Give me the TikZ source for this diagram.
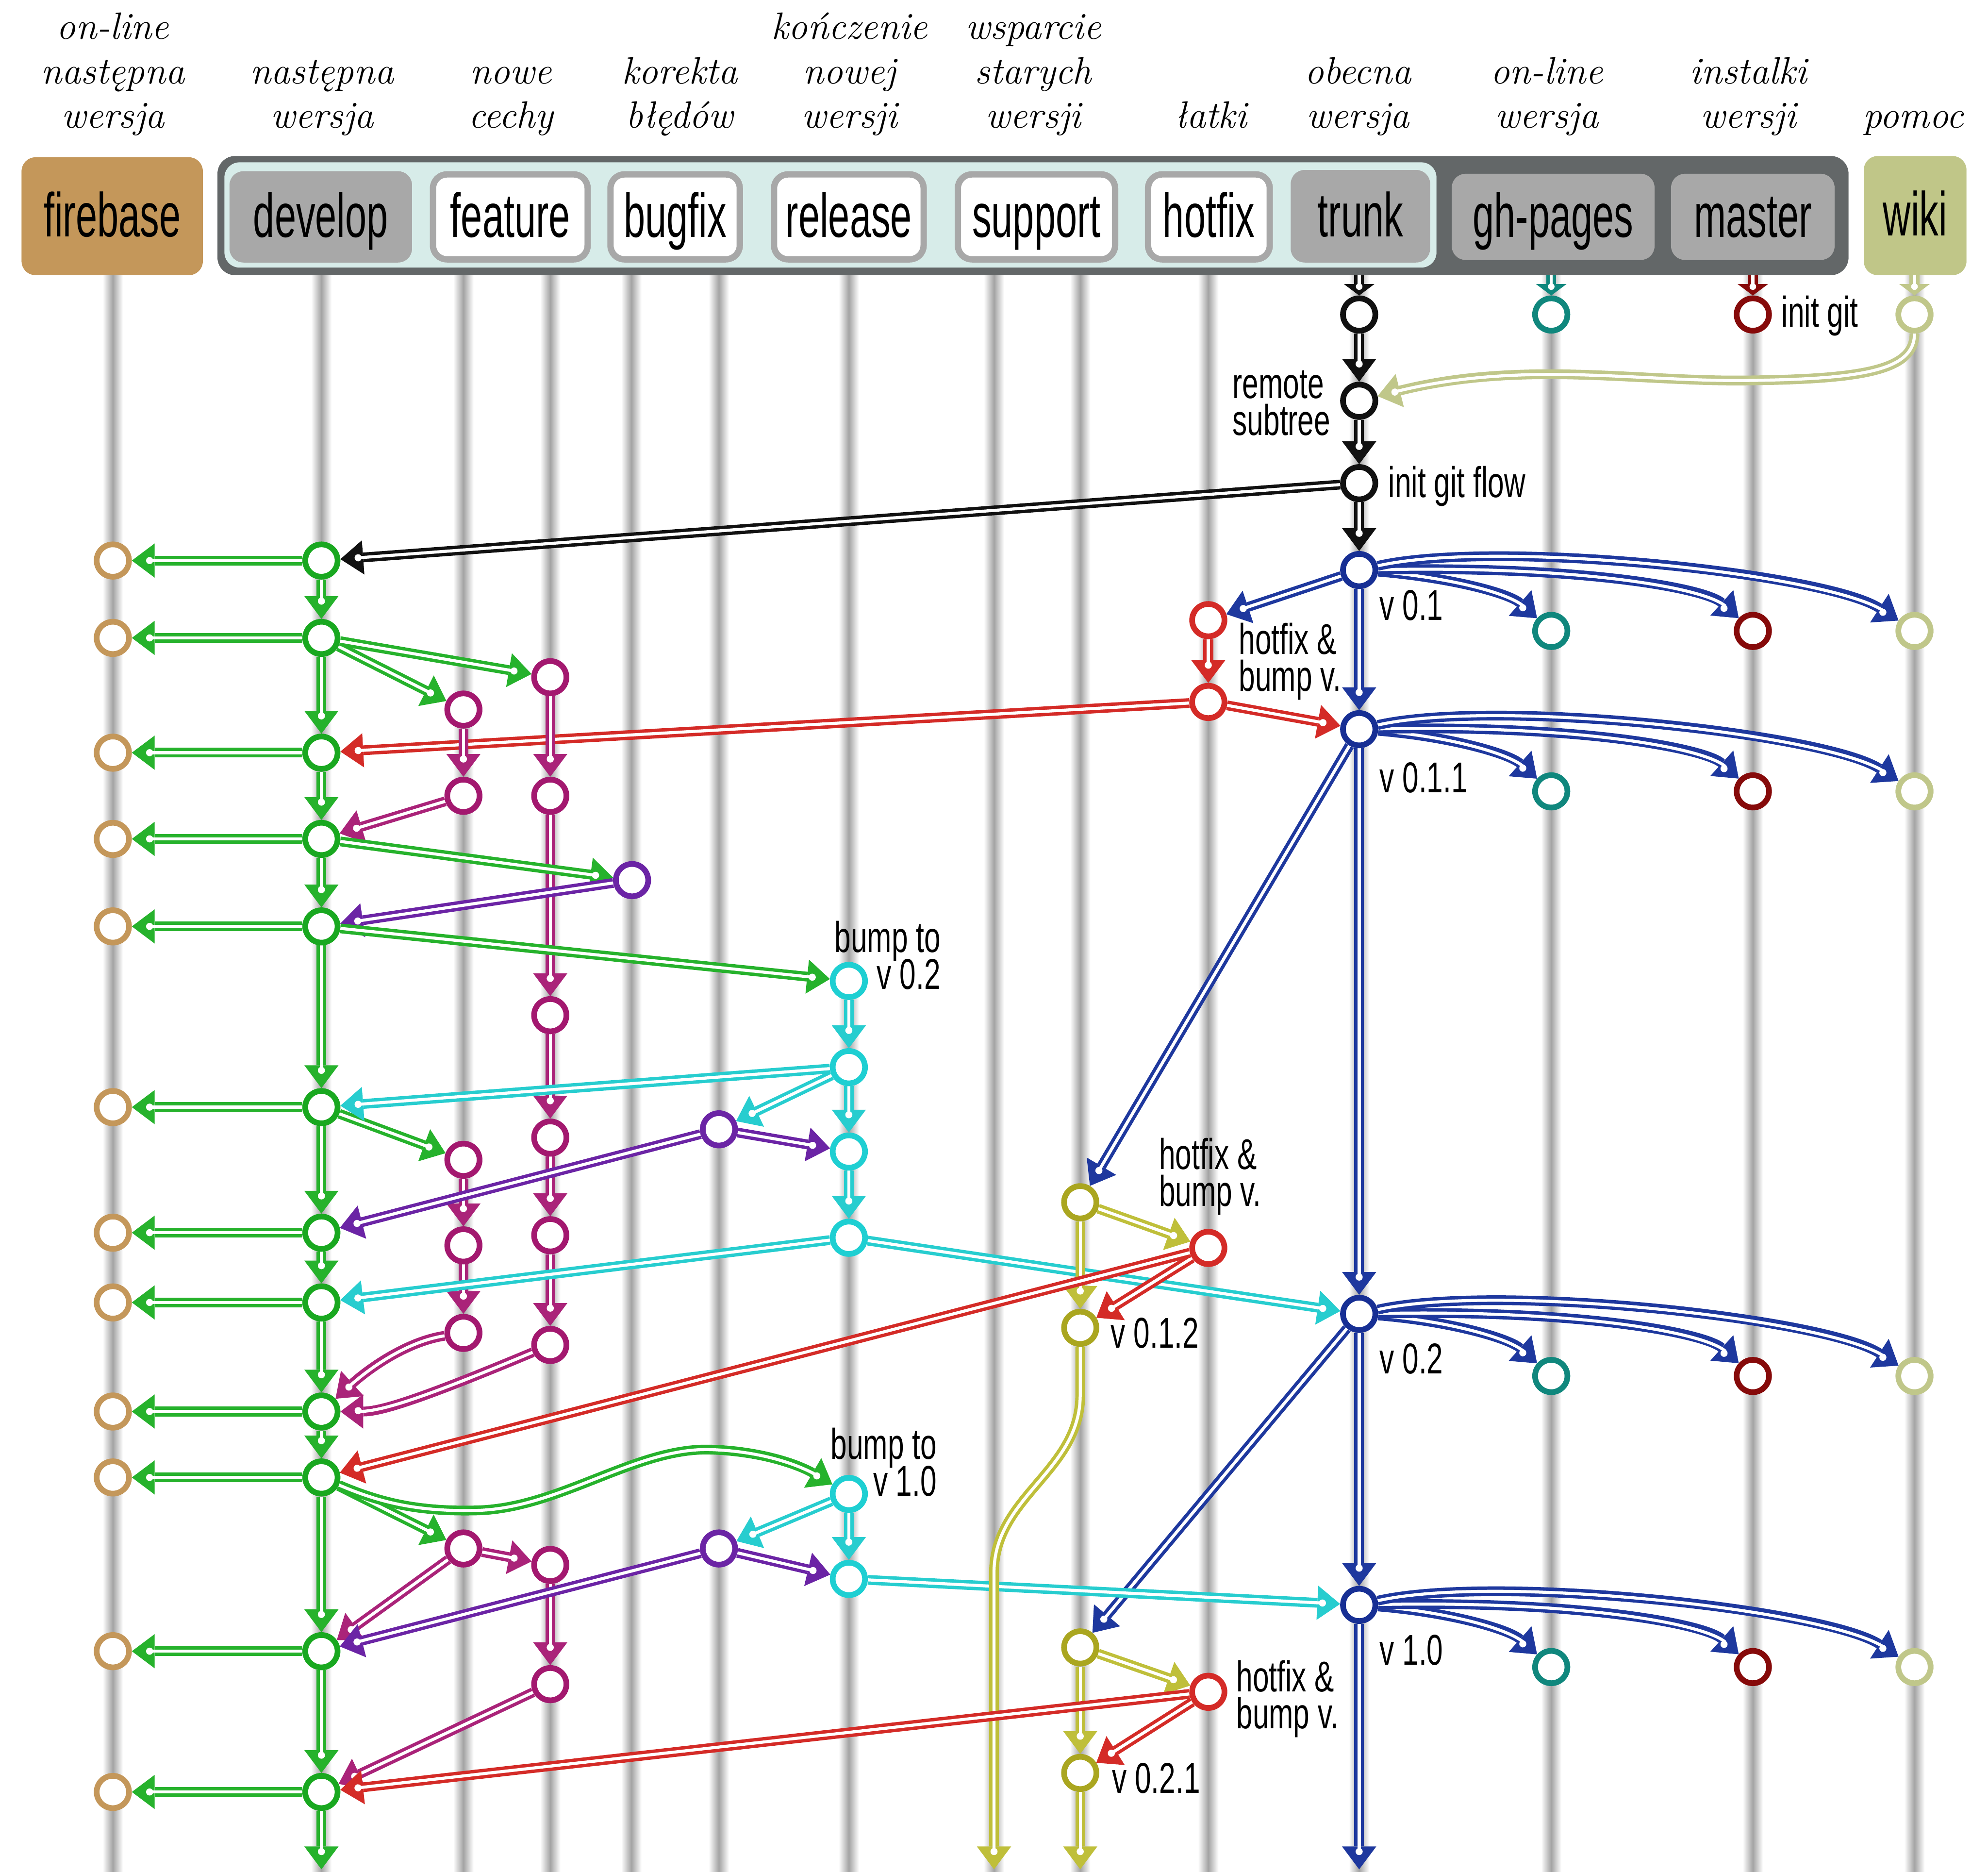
\documentclass[tikz,border=0pt]{standalone}
\usepackage{fontspec}
\newfontfamily\boxfont{Liberation Sans}[FakeStretch=0.62]
\newfontfamily\lblfont{Liberation Sans}[FakeStretch=0.68]
\usetikzlibrary{arrows.meta,decorations.markings}
\pgfdeclarelayer{lanes}
\pgfdeclarelayer{edges}
\pgfsetlayers{lanes,edges,main}
\definecolor{ctan}{HTML}{C4975A}
\definecolor{cdark}{HTML}{636768}
\definecolor{clight}{HTML}{D7ECE9}
\definecolor{cgray}{HTML}{A8A8A8}
\definecolor{cwikibox}{HTML}{C0C688}
\definecolor{cgreen}{HTML}{26B22C}
\definecolor{cgreenN}{HTML}{19A820}
\definecolor{cmag}{HTML}{AA2379}
\definecolor{cmagN}{HTML}{A3186F}
\definecolor{cpur}{HTML}{6B24A5}
\definecolor{ccyan}{HTML}{27CDCF}
\definecolor{ccyanN}{HTML}{1ECFD2}
\definecolor{coliv}{HTML}{BFBF3A}
\definecolor{colivN}{HTML}{AAA620}
\definecolor{chot}{HTML}{D42B27}
\definecolor{ctrunk}{HTML}{1E389E}
\definecolor{ctrunkN}{HTML}{172F94}
\definecolor{cteal}{HTML}{10877D}
\definecolor{cmaster}{HTML}{860A0A}
\definecolor{cwiki}{HTML}{C0C78A}
\definecolor{cblack}{HTML}{111111}
\newcommand\stackc[1]{\vtop{\lineskiplimit=-1000pt\halign{\hfil##\hfil\cr#1\crcr}}}
\newcommand\stackl[1]{\vtop{\lineskiplimit=-1000pt\halign{##\hfil\cr#1\crcr}}}
\newcommand\stackr[1]{\vtop{\lineskiplimit=-1000pt\halign{\hfil##\cr#1\crcr}}}
\tikzset{
  link/.style={draw=#1, line width=7.7pt,
    -{Triangle[length=18pt,width=27pt,line width=0pt]},
    postaction={draw=white, line width=2.4pt, -, shorten >=14pt},
    postaction={draw=none, -, decorate, decoration={markings,
      mark=at position -14pt with {\fill[white] (0,0) circle (2.8pt);}}}},
  stub/.style={draw=#1, line width=7.7pt,
    -{Triangle[length=9pt,width=24pt,line width=0pt]},
    postaction={draw=white, line width=2.4pt, -, shorten >=7pt},
    postaction={draw=none, -, decorate, decoration={markings,
      mark=at position -7pt with {\fill[white] (0,0) circle (2.6pt);}}}},
  commit/.style={circle, draw=#1, fill=white, line width=4.5pt,
    minimum size=25.5pt, inner sep=0pt},
  box/.style={rounded corners=11pt, inner sep=0pt,
    font=\boxfont\fontsize{49}{55}\selectfont, text height=36pt, text depth=4pt},
  hdr/.style={font=\fontsize{30}{35}\selectfont\itshape, anchor=base, inner sep=0pt},
  lbl/.style={font=\lblfont\fontsize{34}{29}\selectfont, inner sep=0pt},
}
\begin{document}
\begin{tikzpicture}[x=1pt,y=-1pt]
\useasboundingbox (0,0) rectangle (1568,1476);
\begin{pgfonlayer}{lanes}
\fill[white] (0,0) rectangle (1568,1476);
\foreach \x in {89,253.5,365.5,434,498,567,669.5,784,852,953,1072,1223.5,1382.5,1510}
  \shade[left color=white,right color=white,middle color=black!36] (\x-8,205) rectangle (\x+8,1476);
\end{pgfonlayer}

% ---------- header ----------
\node[hdr] (h1) at (89,31) {\stackc{on-line\cr następna\cr wersja}};
\node[hdr] (h2) at (254,66) {\stackc{następna\cr wersja}};
\node[hdr] (h3) at (403,66) {\stackc{nowe\cr cechy}};
\node[hdr] (h4) at (536,66) {\stackc{korekta\cr błędów}};
\node[hdr] (h5) at (670,31) {\stackc{kończenie\cr nowej\cr wersji}};
\node[hdr] (h6) at (815,31) {\stackc{wsparcie\cr starych\cr wersji}};
\node[hdr] (h7) at (955,101) {łatki};
\node[hdr] (h8) at (1071,66) {\stackc{obecna\cr wersja}};
\node[hdr] (h9) at (1220,66) {\stackc{on-line\cr wersja}};
\node[hdr] (h10) at (1379,66) {\stackc{instalki\cr wersji}};
\node[hdr] (h11) at (1509,101) {pomoc};

\node[box, fill=ctan, minimum width=143pt, minimum height=93pt] (firebase) at (88.5,170.5) {firebase};
\node[rounded corners=14pt, fill=cdark, minimum width=1286.5pt, minimum height=94pt, inner sep=0pt] (bigbox) at (814.75,170) {};
\node[rounded corners=12pt, fill=clight, minimum width=956pt, minimum height=83pt, inner sep=0pt] (lightbox) at (655,169.5) {};
\node[box, fill=cgray, minimum width=144pt, minimum height=72pt] (develop) at (253,171) {develop};
\node[box, fill=white, draw=cgray, line width=5pt, minimum width=122pt, minimum height=67pt] (feature) at (402.5,171) {feature};
\node[box, fill=white, draw=cgray, line width=5pt, minimum width=102pt, minimum height=67pt] (bugfix) at (532.5,171) {bugfix};
\node[box, fill=white, draw=cgray, line width=5pt, minimum width=118pt, minimum height=67pt] (release) at (669.5,171) {release};
\node[box, fill=white, draw=cgray, line width=5pt, minimum width=124pt, minimum height=67pt] (support) at (817.5,171) {support};
\node[box, fill=white, draw=cgray, line width=5pt, minimum width=96pt, minimum height=67pt] (hotfix) at (953.5,171) {hotfix};
\node[box, fill=cgray, minimum width=110pt, minimum height=73pt] (trunk) at (1073,170.5) {trunk};
\node[box, fill=cgray, minimum width=160pt, minimum height=68pt] (ghpages) at (1225,171) {gh-pages};
\node[box, fill=cgray, minimum width=129pt, minimum height=68pt] (master) at (1382.5,171) {master};
\node[box, fill=cwikibox, minimum width=81pt, minimum height=94pt] (wiki) at (1510.5,170) {wiki};

\coordinate (tkTop) at (1072,217);
\coordinate (ghTop) at (1223.5,217);
\coordinate (msTop) at (1382.5,217);
\coordinate (wkTop) at (1510,217);
\coordinate (dEnd) at (253.5,1474);
\coordinate (sEnd1) at (784,1474);
\coordinate (sEnd2) at (852,1474);
\coordinate (tEnd) at (1072,1474);

% ---------- commits ----------
\foreach \y [count=\i from 0] in {442,503,593.5,661.5,730.5,873,972,1027,1113,1165,1302,1413} {
  \node[commit=cgreenN] (D\i) at (253.5,\y) {};
  \node[commit=ctan] (F\i) at (89,\y) {};
}
\node[commit=cblack] (T0) at (1072,248) {};
\node[commit=cblack] (T1) at (1072,316) {};
\node[commit=cblack] (T2) at (1072,381) {};
\node[commit=ctrunkN] (T3) at (1072,449.5) {};
\node[commit=ctrunkN] (T4) at (1072,575) {};
\node[commit=ctrunkN] (T5) at (1072,1036) {};
\node[commit=ctrunkN] (T6) at (1072,1265.5) {};
\foreach \n/\y in {0/248,1/497.5,2/624,3/1085,4/1314.5} {
  \node[commit=cteal] (GH\n) at (1223.5,\y) {};
  \node[commit=cmaster] (M\n) at (1382.5,\y) {};
  \node[commit=cwiki] (W\n) at (1510,\y) {};
}
\node[commit=chot] (H1) at (953,489) {};
\node[commit=chot] (H2) at (953,553.5) {};
\node[commit=chot] (H3) at (953,984) {};
\node[commit=chot] (H4) at (953,1334) {};
\node[commit=colivN] (S1) at (852,948) {};
\node[commit=colivN] (S2) at (852,1047) {};
\node[commit=colivN] (S3) at (852,1299) {};
\node[commit=colivN] (S4) at (852,1398) {};
\node[commit=ccyanN] (R1) at (669.5,773.5) {};
\node[commit=ccyanN] (R2) at (669.5,841.5) {};
\node[commit=ccyanN] (R3) at (669.5,908) {};
\node[commit=ccyanN] (R4) at (669.5,976) {};
\node[commit=ccyanN] (R5) at (669.5,1178) {};
\node[commit=ccyanN] (R6) at (669.5,1245) {};
\node[commit=cpur] (B1) at (498.5,694) {};
\node[commit=cpur] (B2) at (567,890.5) {};
\node[commit=cpur] (B3) at (567,1221) {};
\node[commit=cmagN] (FA1) at (365.5,559.5) {};
\node[commit=cmagN] (FA2) at (365.5,627.5) {};
\node[commit=cmagN] (FB1) at (434,534) {};
\node[commit=cmagN] (FB2) at (434,627.5) {};
\node[commit=cmagN] (FB3) at (434,800.5) {};
\node[commit=cmagN] (FB4) at (434,897) {};
\node[commit=cmagN] (FB5) at (434,974) {};
\node[commit=cmagN] (FB6) at (434,1060.5) {};
\node[commit=cmagN] (FC1) at (365.5,914.5) {};
\node[commit=cmagN] (FC2) at (365.5,982) {};
\node[commit=cmagN] (FC3) at (365.5,1051) {};
\node[commit=cmagN] (FD1) at (365.5,1221) {};
\node[commit=cmagN] (FD2) at (434,1234) {};
\node[commit=cmagN] (FD3) at (434,1328) {};

% ---------- labels ----------
\node[lbl, anchor=base west] (lInit) at (1405,258) {init git};
\node[lbl, anchor=base west] (lRemote) at (972,314) {\stackl{remote\cr subtree}};
\node[lbl, anchor=base west] (lFlow) at (1095,392) {init git flow};
\node[lbl, anchor=base west] (lv01) at (1088,489) {v 0.1};
\node[lbl, anchor=base west] (lHot1) at (977,516) {\stackl{hotfix \&\cr bump v.}};
\node[lbl, anchor=base west] (lv011) at (1088,625) {v 0.1.1};
\node[lbl, anchor=base east] (lBump1) at (742,751) {\stackr{bump to\cr v 0.2}};
\node[lbl, anchor=base west] (lHot2) at (914,922) {\stackl{hotfix \&\cr bump v.}};
\node[lbl, anchor=base west] (lv012) at (876,1063) {v 0.1.2};
\node[lbl, anchor=base west] (lv02) at (1088,1083) {v 0.2};
\node[lbl, anchor=base east] (lBump2) at (739,1150.5) {\stackr{bump to\cr v 1.0}};
\node[lbl, anchor=base west] (lv10) at (1088,1313) {v 1.0};
\node[lbl, anchor=base west] (lHot3) at (975,1334) {\stackl{hotfix \&\cr bump v.}};
\node[lbl, anchor=base west] (lv021) at (877,1414) {v 0.2.1};

% ---------- connectors ----------
\begin{pgfonlayer}{edges}
\draw[stub=cblack] (tkTop) -- (T0);
\draw[stub=cteal] (ghTop) -- (GH0);
\draw[stub=cmaster] (msTop) -- (M0);
\draw[stub=cwiki] (wkTop) -- (W0);
\draw[link=cblack] (T0) -- (T1);
\draw[link=cblack] (T1) -- (T2);
\draw[link=cblack] (T2) -- (T3);
\draw[link=cwiki] (W0) .. controls (1510,292) and (1470,299) .. (1377,300)
   .. controls (1290,301) and (1200,284) .. (T1);
\draw[link=cblack] (T2) -- (D0);
\draw[link=ctrunk] (T3) -- (T4);
\draw[link=ctrunk] (T4) -- (T5);
\draw[link=ctrunk] (T5) -- (T6);
\draw[link=ctrunk] (T6) -- (tEnd);
\foreach \t/\n in {T3/1,T4/2,T5/3,T6/4} {
  \draw[link=ctrunk] (\t) .. controls +(73,6) and +(-33,-29.5) .. (GH\n);
  \draw[link=ctrunk] (\t) .. controls +(178,-3.5) and +(-37,-33.5) .. (M\n);
  \draw[link=ctrunk] (\t) .. controls +(108,-24.5) and +(-70,-45.5) .. (W\n);
}
\draw[link=ctrunk] (T3) -- (H1);
\draw[link=chot] (H1) -- (H2);
\draw[link=chot] (H2) -- (T4);
\draw[link=chot] (H2) -- (D2);
\draw[link=ctrunk] (T4) -- (S1);
\draw[link=ctrunk] (T5) -- (S3);
% develop
\foreach \i in {0,...,11} { \draw[link=cgreen] (D\i) -- (F\i); }
\foreach \i [evaluate=\i as \j using int(\i+1)] in {0,...,10} { \draw[link=cgreen] (D\i) -- (D\j); }
\draw[link=cgreen] (D11) -- (dEnd);
% feature
\draw[link=cgreen] (D1) -- (FA1);
\draw[link=cgreen] (D1) -- (FB1);
\draw[link=cmag] (FA1) -- (FA2);
\draw[link=cmag] (FA2) -- (D3);
\draw[link=cmag] (FB1) -- (FB2);
\draw[link=cmag] (FB2) -- (FB3);
\draw[link=cmag] (FB3) -- (FB4);
\draw[link=cmag] (FB4) -- (FB5);
\draw[link=cmag] (FB5) -- (FB6);
\draw[link=cmag] (FB6) .. controls (330,1104) and (300,1113) .. (D8);
\draw[link=cgreen] (D5) -- (FC1);
\draw[link=cmag] (FC1) -- (FC2);
\draw[link=cmag] (FC2) -- (FC3);
\draw[link=cmag] (FC3) .. controls (320,1058) and (290,1080) .. (D8);
\draw[link=cgreen] (D9) -- (FD1);
\draw[link=cmag] (FD1) -- (FD2);
\draw[link=cmag] (FD2) -- (FD3);
\draw[link=cmag] (FD1) -- (D10);
\draw[link=cmag] (FD3) -- (D11);
% bugfix
\draw[link=cgreen] (D3) -- (B1);
\draw[link=cpur] (B1) -- (D4);
\draw[link=ccyan] (R2) -- (B2);
\draw[link=cpur] (B2) -- (R3);
\draw[link=cpur] (B2) -- (D6);
\draw[link=ccyan] (R5) -- (B3);
\draw[link=cpur] (B3) -- (R6);
\draw[link=cpur] (B3) -- (D10);
% release
\draw[link=cgreen] (D4) -- (R1);
\draw[link=ccyan] (R1) -- (R2);
\draw[link=ccyan] (R2) -- (R3);
\draw[link=ccyan] (R3) -- (R4);
\draw[link=ccyan] (R2) -- (D5);
\draw[link=ccyan] (R4) -- (D7);
\draw[link=ccyan] (R4) -- (T5);
\draw[link=cgreen] (D9) .. controls (300,1185) and (330,1192) .. (375,1191)
   .. controls (440,1190) and (500,1142) .. (559,1143)
   .. controls (600,1144) and (630,1155) .. (R5);
\draw[link=ccyan] (R5) -- (R6);
\draw[link=ccyan] (R6) -- (T6);
% support / hotfix
\draw[link=coliv] (S1) -- (H3);
\draw[link=coliv] (S1) -- (S2);
\draw[link=chot] (H3) -- (S2);
\draw[link=chot] (H3) -- (D9);
\draw[link=coliv] (S2) -- (852,1100) .. controls (852,1160) and (784,1180) .. (784,1240) -- (sEnd1);
\draw[link=coliv] (S3) -- (H4);
\draw[link=coliv] (S3) -- (S4);
\draw[link=chot] (H4) -- (S4);
\draw[link=chot] (H4) -- (D11);
\draw[link=coliv] (S4) -- (sEnd2);
\end{pgfonlayer}
\end{tikzpicture}
\end{document}
